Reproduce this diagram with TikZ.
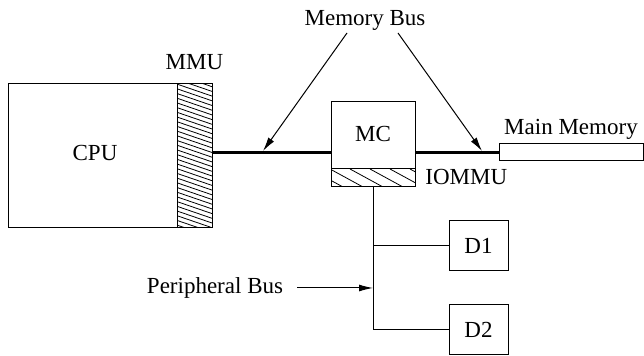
\documentclass[tikz,border=0pt]{standalone}
\usepackage{fontspec}
\setmainfont{Liberation Serif}
\usetikzlibrary{arrows.meta}
\begin{document}
\begin{tikzpicture}[x=0.5pt,y=-0.5pt,
  box/.style={draw,line width=0.5pt,inner sep=0pt,outer sep=0pt},
  txt/.style={inner sep=0pt,font=\fontsize{11.5}{13}\selectfont},
  bus/.style={line width=1.6pt},
  thin/.style={line width=0.5pt},
  ptr/.style={line width=0.5pt,-{Latex[length=7pt,width=3.5pt]}},
  hatch/.style={line width=0.4pt}]
\useasboundingbox (0,0) rectangle (644,356);
% boxes
\node[box,minimum width=84.5pt,minimum height=72pt] (cpu) at (92.5,156) {};
\node[txt] (cputxt) at (95,153) {CPU};
\node[box,minimum width=17.5pt,minimum height=72pt] (mmu) at (194.5,156) {};
\node[box,minimum width=42pt,minimum height=33.5pt] (mc) at (373,135.5) {};
\node[txt] (mctxt) at (373,134) {MC};
\node[box,minimum width=42pt,minimum height=9pt] (iommu) at (373,178) {};
\node[box,minimum width=72pt,minimum height=8.5pt] (mm) at (571,152.5) {};
\node[box,minimum width=29.5pt,minimum height=25pt] (d1) at (478.5,246) {};
\node[txt] (d1txt) at (478.5,246) {D1};
\node[box,minimum width=29.5pt,minimum height=25pt] (d2) at (478.5,330) {};
\node[txt] (d2txt) at (478.5,330) {D2};
% hatching
\begin{scope}
  \clip (mmu.north west) rectangle (mmu.south east);
  \foreach \y in {70,74.7,...,232} \draw[hatch] (177,\y) -- (212,\y+12);
\end{scope}
\begin{scope}
  \clip (iommu.north west) rectangle (iommu.south east);
  \foreach \x in {290,310,...,420} \draw[hatch] (\x,169) -- (\x+33,187);
\end{scope}
% labels
\node[txt] (mmulbl) at (194.5,62) {MMU};
\node[txt,anchor=west] (iommulbl) at (425,177) {IOMMU};
\node[txt] (mmlbl) at (571,129) {Main Memory};
\node[txt] (mblbl) at (365,20) {Memory Bus};
\node[txt] (pblbl) at (215,288) {Peripheral Bus};
% buses
\draw[bus] (mmu.east |- mm.west) -- (mc.west |- mm.west);
\draw[bus] (mc.east |- mm.west) -- (mm.west);
\draw[thin] (iommu.south) -- (iommu.south |- d2.west) -- (d2.west);
\draw[thin] (iommu.south |- d1.west) -- (d1.west);
% pointers
\coordinate (s1) at (347,33);
\coordinate (t1) at (263,151);
\coordinate (s2) at (398,33);
\coordinate (t2) at (482,151);
\coordinate (s3) at (297,288);
\coordinate (t3) at (iommu.south |- s3);
\draw[ptr] (s1) -- (t1);
\draw[ptr] (s2) -- (t2);
\draw[ptr] (s3) -- (t3);
\end{tikzpicture}
\end{document}
